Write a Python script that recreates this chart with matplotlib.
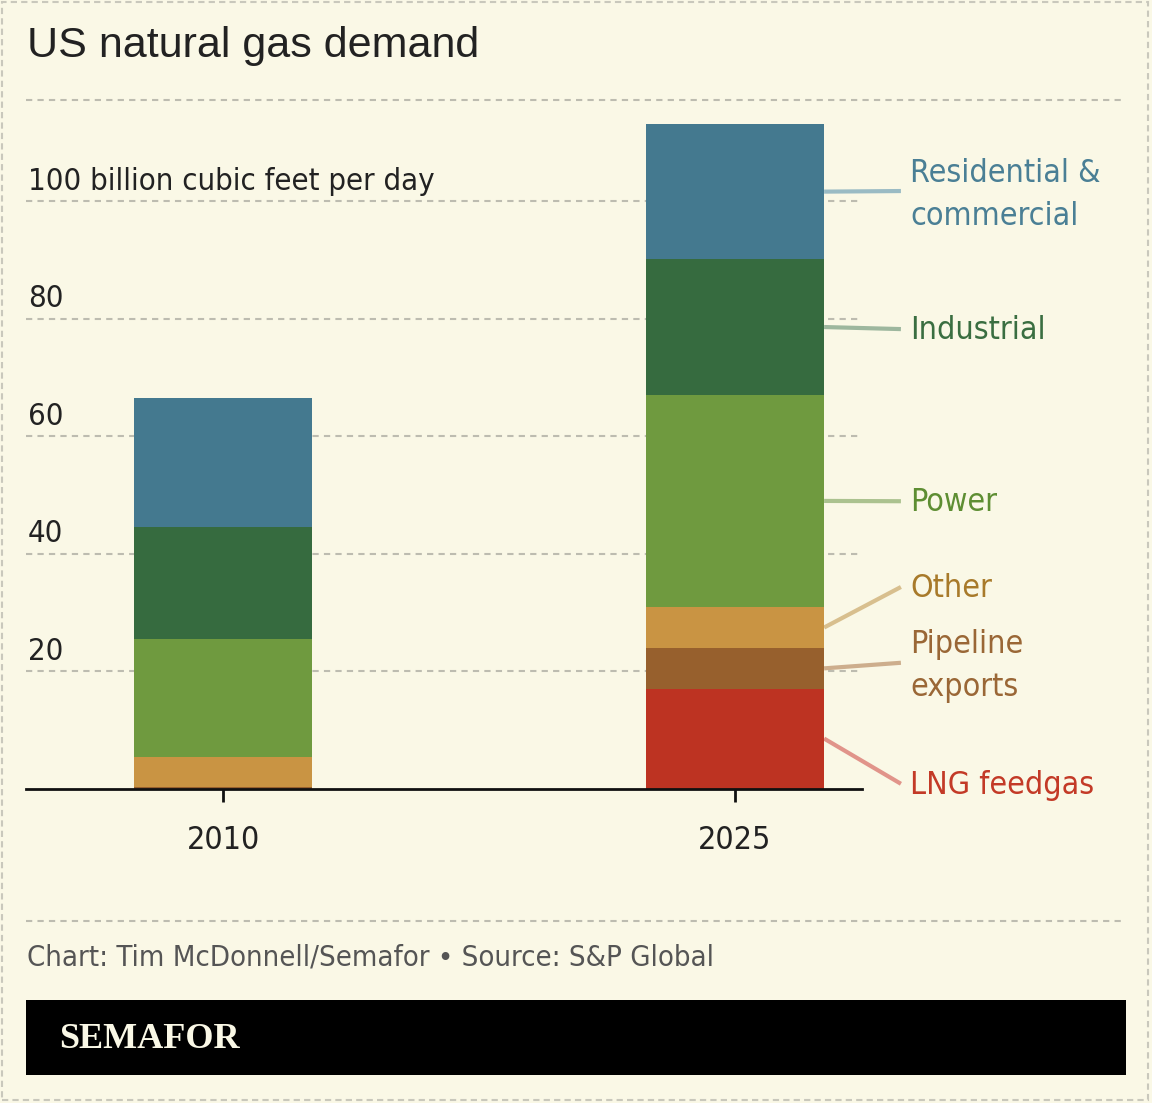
import matplotlib
matplotlib.use("Agg")
import matplotlib.pyplot as plt
import matplotlib.font_manager as fm
from matplotlib.patches import Rectangle

# data (billion cubic feet per day)
years = ["2010", "2025"]
sectors = ["LNG feedgas", "Pipeline\nexports", "Other", "Power", "Industrial", "Residential &\ncommercial"]
lng = [0.0, 17.0]
pipeline = [0.3, 6.9]
other = [5.1, 7.0]
power = [20.1, 36.1]
industrial = [19.0, 23.1]
residential = [22.0, 23.0]
label_y = [0.8, 21.4, 34.3, 48.9, 78.2, 101.7]   # where each side label sits
yticks = [20, 40, 60, 80, 100]

series = [lng, pipeline, other, power, industrial, residential]
bar_colors = ["#BD3322", "#97602D", "#C99443", "#6F9A3F", "#366B3F", "#44798F"]
text_colors = ["#C33A27", "#9A6736", "#A87A2A", "#5E8E33", "#3A6E41", "#4A7F95"]
line_colors = ["#E1948A", "#CDAE8D", "#D8BF8E", "#ABC28F", "#9DB79E", "#9ABBC4"]

BG = "#FAF8E6"
GRID = "#BDBCB0"


def pick_condensed():
    for f in fm.fontManager.ttflist:
        if f.name == "Liberation Sans Narrow" and f.style == "normal" and f.weight in (400, "normal", "regular"):
            return f.fname
    for f in fm.fontManager.ttflist:
        n = f.fname.lower()
        if "condensed" in n and "bold" not in n and "oblique" not in n and "italic" not in n \
                and "light" not in n and "medium" not in n and "thin" not in n and "black" not in n:
            return f.fname
    return None


cond_path = pick_condensed()


def cfont(size):
    if cond_path:
        return fm.FontProperties(fname=cond_path, size=size)
    return fm.FontProperties(family="DejaVu Sans", size=size * 0.85)


fig = plt.figure(figsize=(11.52, 11.03), dpi=100, facecolor=BG)
W, H = 1152, 1103


def fx(px):
    return px / W


def fy(py):
    return 1 - py / H


# outer dashed border
fig.patches.append(Rectangle((fx(2), fy(1100)), fx(1148) - fx(2), fy(2) - fy(1100),
                             transform=fig.transFigure, fill=False, edgecolor="#C9C8BC",
                             linestyle=(0, (3, 2)), linewidth=1.5))

fig.text(fx(27), fy(46), "US natural gas demand", fontsize=31, color="#222222",
         family="Liberation Sans", va="center", ha="left")

for py in (100, 921):
    fig.add_artist(plt.Line2D([fx(26), fx(1126)], [fy(py), fy(py)], transform=fig.transFigure,
                              color=GRID, linestyle=(0, (3, 2.5)), linewidth=1.5))

ax = fig.add_axes([fx(26), fy(788.5), fx(862) - fx(26), fy(112.9) - fy(788.5)])
ax.set_facecolor(BG)
ax.set_xlim(-0.3848, 1.248)
ax.set_ylim(0, 115)

x = [0, 1]
bottom = [0, 0]
for vals, c in zip(series, bar_colors):
    ax.bar(x, vals, bottom=bottom, width=0.348, color=c, linewidth=0, zorder=3)
    bottom = [b + v for b, v in zip(bottom, vals)]

for t in yticks:
    ax.axhline(t, color=GRID, linestyle=(0, (3, 2.5)), linewidth=1.5, zorder=1)
    lab = "100 billion cubic feet per day" if t == 100 else str(t)
    ax.text(-0.3810, t + 0.9, lab, fontproperties=cfont(22.3), color="#222222",
            va="bottom", ha="left")

# labels for 2025 segments
mids = []
base = 0
for vals in series:
    mids.append(base + vals[1] / 2)
    base += vals[1]
x0 = 1 + 0.348 / 2
x1 = 1.324
for name, m, ly, tc, lc in zip(sectors, mids, label_y, text_colors, line_colors):
    ax.plot([x0, x1], [m, ly], color=lc, linewidth=3, clip_on=False, zorder=2,
            solid_capstyle="butt")
    ty = ly - (0.6 if "\n" in name else 0.3)
    ax.text(x1 + 0.018, ty, name, fontproperties=cfont(23), color=tc, va="center",
            ha="left", linespacing=1.5, clip_on=False)

for s in ("top", "right", "left"):
    ax.spines[s].set_visible(False)
ax.spines["bottom"].set_color("#111111")
ax.spines["bottom"].set_linewidth(2)
ax.spines["bottom"].set_zorder(4)
ax.set_yticks([])
ax.set_xticks(x)
ax.set_xticklabels(years)
for lab in ax.get_xticklabels():
    lab.set_fontproperties(cfont(23))
    lab.set_color("#222222")
ax.tick_params(axis="x", length=9, width=2, color="#111111", pad=17)

fig.text(fx(27), fy(957), "Chart: Tim McDonnell/Semafor \u2022 Source: S&P Global",
         fontproperties=cfont(21), color="#555555", va="center", ha="left")

fig.patches.append(Rectangle((fx(26), fy(1075)), fx(1126) - fx(26), fy(1000) - fy(1075),
                             transform=fig.transFigure, facecolor="black", edgecolor="none"))
fig.text(fx(59), fy(1039), "SEMAFOR", fontsize=26, fontweight="bold", family="Liberation Serif",
         color="#FAF8E6", va="center", ha="left")

fig.savefig("out.png", dpi=100, facecolor=BG)
